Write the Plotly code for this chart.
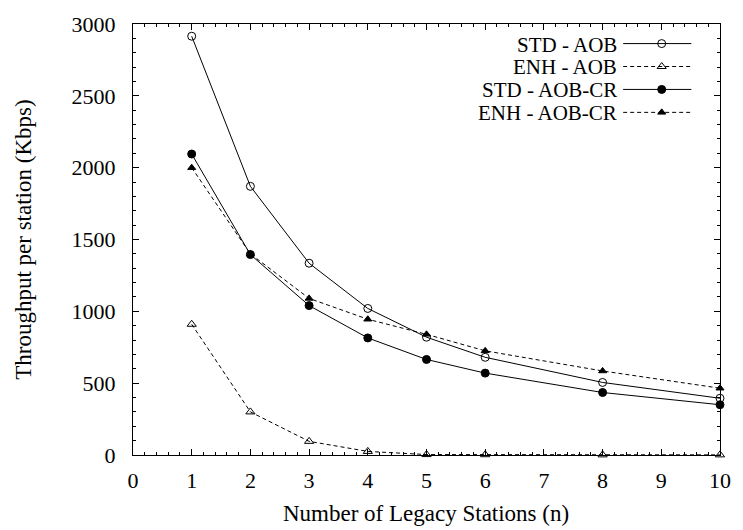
import plotly.graph_objects as go

# ---- data ----
stations = [1, 2, 3, 4, 5, 6, 8, 10]
std_aob = [2915, 1870, 1335, 1020, 820, 680, 505, 395]
enh_aob = [910, 300, 95, 25, 3, 2, 1, 1]
std_aob_cr = [2095, 1395, 1040, 815, 665, 570, 435, 350]
enh_aob_cr = [2000, 1400, 1090, 945, 840, 725, 585, 465]

series_names = ["STD - AOB", "ENH - AOB", "STD - AOB-CR", "ENH - AOB-CR"]
series_vals = [std_aob, enh_aob, std_aob_cr, enh_aob_cr]
symbols = ["circle-open", "triangle-up-open", "circle", "triangle-up"]
dashes = ["solid", "4px,3px", "solid", "4px,3px"]
sizes = [8, 8, 8, 7]

FONT = "Liberation Serif, Times New Roman, serif"
L, R, T, B = 133, 727, 15, 455
W, H = 743, 530

fig = go.Figure()
for name, vals, sym, dash, sz in zip(series_names, series_vals, symbols, dashes, sizes):
    fig.add_trace(go.Scatter(
        x=stations, y=vals, mode="lines+markers", name=name,
        line=dict(color="black", width=1, dash=dash),
        marker=dict(symbol=sym, size=sz, color="black", line=dict(color="black", width=1)),
        cliponaxis=False, showlegend=False,
    ))

# ---- gnuplot-style key: text then sample (drawn on overlay pixel axes) ----
key_rows = [35, 58.4, 81.8, 105.2]
for name, sym, dash, sz, yrow in zip(series_names, symbols, dashes, sizes, key_rows):
    fig.add_trace(go.Scatter(
        x=[629, 698], y=[yrow, yrow], mode="lines", xaxis="x2", yaxis="y2",
        line=dict(color="black", width=1, dash=dash), showlegend=False, hoverinfo="skip",
    ))
    fig.add_trace(go.Scatter(
        x=[668], y=[yrow], mode="markers", xaxis="x2", yaxis="y2",
        marker=dict(symbol=sym, size=sz, color="black", line=dict(color="black", width=1)),
        showlegend=False, hoverinfo="skip",
    ))
    fig.add_annotation(x=624, y=yrow + 1, xref="x2", yref="y2", text=name,
                       showarrow=False, xanchor="right", yanchor="middle", borderpad=0,
                       font=dict(family=FONT, size=21, color="black"))

axis_common = dict(
    showgrid=False, zeroline=False, showline=True, linecolor="black", linewidth=1,
    mirror="ticks", ticks="inside", ticklen=6, tickwidth=1, tickcolor="black",
    tickfont=dict(family=FONT, size=22, color="black"),
)

fig.update_layout(
    width=W, height=H,
    margin=dict(l=L, r=W - R, t=T, b=H - B),
    paper_bgcolor="white", plot_bgcolor="white",
    xaxis=dict(range=[0, 10], dtick=1, tick0=0, ticklabelstandoff=6,
               minor=dict(dtick=0.2, ticks="inside", ticklen=3, tickcolor="black", tickwidth=1),
               **axis_common),
    yaxis=dict(range=[0, 3000], dtick=500, tick0=0, ticklabelstandoff=12,
               minor=dict(dtick=100, ticks="inside", ticklen=3, tickcolor="black", tickwidth=1),
               **axis_common),
    xaxis2=dict(overlaying="x", range=[L, R], visible=False, fixedrange=True),
    yaxis2=dict(overlaying="y", range=[B, T], visible=False, fixedrange=True),
)

# axis titles placed like the gnuplot original
fig.add_annotation(text="Number of Legacy Stations (n)", xref="paper", yref="paper",
                   x=(429 - L) / (R - L), y=(B - 515) / (B - T), showarrow=False,
                   xanchor="center", yanchor="middle",
                   font=dict(family=FONT, size=23, color="black"))
fig.add_annotation(text="Throughput per station (Kbps)", xref="paper", yref="paper",
                   x=(22 - L) / (R - L), y=0.5, showarrow=False, textangle=-90,
                   xanchor="center", yanchor="middle",
                   font=dict(family=FONT, size=23, color="black"))

fig.write_html("out.html")
